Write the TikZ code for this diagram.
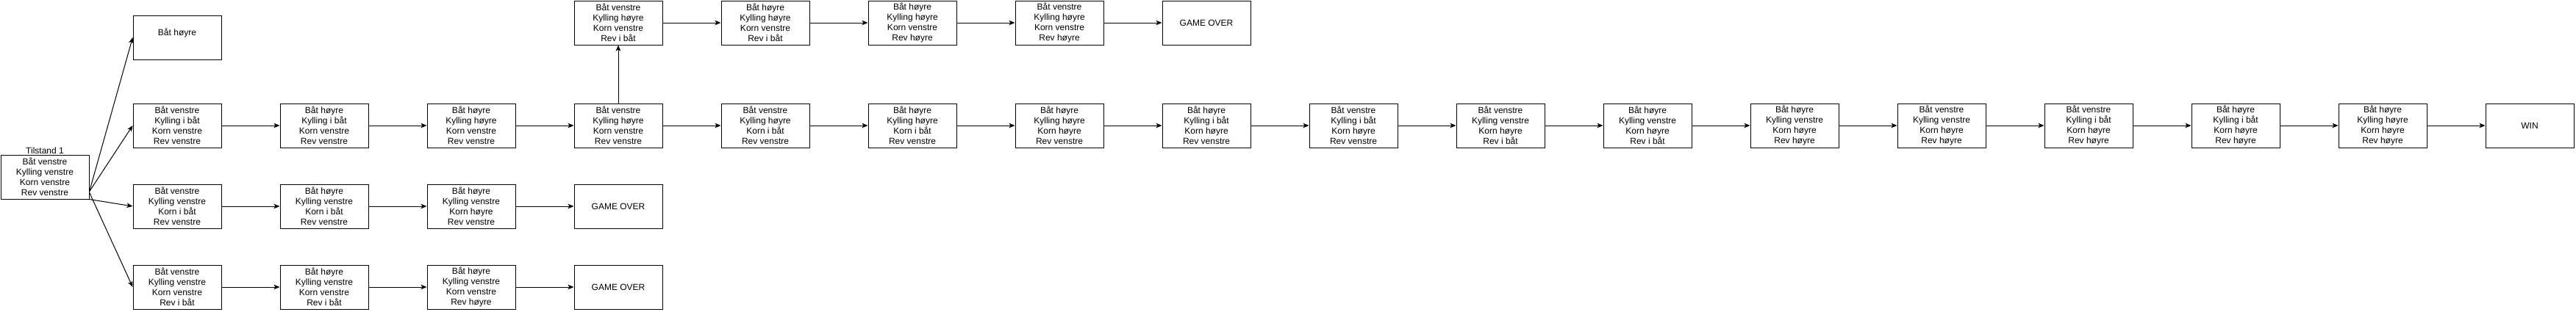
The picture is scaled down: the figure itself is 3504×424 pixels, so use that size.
\documentclass[tikz,border=0pt]{standalone}
\usepackage{fontspec}
\setmainfont{Liberation Sans}
\usetikzlibrary{arrows.meta,calc}
\tikzset{
  state/.style={draw,line width=1pt,minimum width=120pt,minimum height=60pt,inner sep=0pt,align=center,fill=white},
  move/.style={line width=1pt,-{Stealth[length=8pt,width=6.5pt,inset=2pt]}}
}
\begin{document}
\begin{tikzpicture}[x=1pt,y=1pt,yscale=-1,font=\fontsize{12}{14}\selectfont]
\useasboundingbox (0,0) rectangle (3504,424);
\def\x{200}
%start state
\draw (61,241) node[state,label={[inner sep=1pt]above:Tilstand 1}] (t1) {Båt venstre\\Kylling venstre\\Korn venstre\\Rev venstre};

%first column
\draw (241,51) node[state] (h1) {Båt høyre\\~};
\draw (241,171) node[state] (m1) {Båt venstre\\Kylling i båt\\Korn venstre\\Rev venstre};
\draw (241,281) node[state] (k1) {Båt venstre\\Kylling venstre\\Korn i båt\\Rev venstre};
\draw (241,391) node[state] (r1) {Båt venstre\\Kylling venstre\\Korn venstre\\Rev i båt};
% Arrows from start
\draw[move] ($(t1.east)+(0,20)$) -- (h1.west);
\draw[move] ($(t1.east)+(0,20)$) -- (m1.west);
\draw[move] (t1.south east) -- (k1.west);
\draw[move] ($(t1.east)+(0,21)$) -- (r1.west);

%row 3 (korn)
\draw (241+\x,281) node[state] (k2) {Båt høyre\\Kylling venstre\\Korn i båt\\Rev venstre};
\draw (241+2*\x,281) node[state] (k3) {Båt høyre\\Kylling venstre\\Korn høyre\\Rev venstre};
\draw (241+3*\x,281) node[state] (go2) {GAME OVER};
\draw[move] (k1) -- (k2);
\draw[move] (k2) -- (k3);
\draw[move] (k3) -- (go2);

%row 4 (rev)
\draw (241+\x,391) node[state] (r2) {Båt høyre\\Kylling venstre\\Korn venstre\\Rev i båt};
\draw (241+2*\x,391) node[state] (r3) {Båt høyre\\Kylling venstre\\Korn venstre\\Rev høyre};
\draw (241+3*\x,391) node[state] (go3) {GAME OVER};
\draw[move] (r1) -- (r2);
\draw[move] (r2) -- (r3);
\draw[move] (r3) -- (go3);

%row 2 (main path)
\draw (241+\x,171) node[state] (m2) {Båt høyre\\Kylling i båt\\Korn venstre\\Rev venstre};
\draw (241+2*\x,171) node[state] (m3) {Båt høyre\\Kylling høyre\\Korn venstre\\Rev venstre};
\draw (241+3*\x,171) node[state] (m4) {Båt venstre\\Kylling høyre\\Korn venstre\\Rev venstre};
\draw (241+4*\x,171) node[state] (m5) {Båt venstre\\Kylling høyre\\Korn i båt\\Rev venstre};
\draw (241+5*\x,171) node[state] (m6) {Båt høyre\\Kylling høyre\\Korn i båt\\Rev venstre};
\draw (241+6*\x,171) node[state] (m7) {Båt høyre\\Kylling høyre\\Korn høyre\\Rev venstre};
\draw (241+7*\x,171) node[state] (m8) {Båt høyre\\Kylling i båt\\Korn høyre\\Rev venstre};
\draw (241+8*\x,171) node[state] (m9) {Båt venstre\\Kylling i båt\\Korn høyre\\Rev venstre};
\draw (241+9*\x,171) node[state] (m10) {Båt venstre\\Kylling venstre\\Korn høyre\\Rev i båt};
\draw (241+10*\x,171) node[state] (m11) {Båt høyre\\Kylling venstre\\Korn høyre\\Rev i båt};
\draw (241+11*\x,171) node[state] (m12) {Båt høyre\\Kylling venstre\\Korn høyre\\Rev høyre};
\draw (241+12*\x,171) node[state] (m13) {Båt venstre\\Kylling venstre\\Korn høyre\\Rev høyre};
\draw (241+13*\x,171) node[state] (m14) {Båt venstre\\Kylling i båt\\Korn høyre\\Rev høyre};
\draw (241+14*\x,171) node[state] (m15) {Båt høyre\\Kylling i båt\\Korn høyre\\Rev høyre};
\draw (241+15*\x,171) node[state] (m16) {Båt høyre\\Kylling høyre\\Korn høyre\\Rev høyre};
\draw (241+16*\x,171) node[state] (win) {WIN};
\draw[move] (m1) -- (m2);
\draw[move] (m2) -- (m3);
\draw[move] (m3) -- (m4);
\draw[move] (m4) -- (m5);
\draw[move] (m5) -- (m6);
\draw[move] (m6) -- (m7);
\draw[move] (m7) -- (m8);
\draw[move] (m8) -- (m9);
\draw[move] (m9) -- (m10);
\draw[move] (m10) -- (m11);
\draw[move] (m11) -- (m12);
\draw[move] (m12) -- (m13);
\draw[move] (m13) -- (m14);
\draw[move] (m14) -- (m15);
\draw[move] (m15) -- (m16);
\draw[move] (m16) -- (win);

%row 1 (branch up from m4)
\draw (241+3*\x,31) node[state] (o1) {Båt venstre\\Kylling høyre\\Korn venstre\\Rev i båt};
\draw (241+4*\x,31) node[state] (o2) {Båt høyre\\Kylling høyre\\Korn venstre\\Rev i båt};
\draw (241+5*\x,31) node[state] (o3) {Båt høyre\\Kylling høyre\\Korn venstre\\Rev høyre};
\draw (241+6*\x,31) node[state] (o4) {Båt venstre\\Kylling høyre\\Korn venstre\\Rev høyre};
\draw (241+7*\x,31) node[state] (go1) {GAME OVER};
\draw[move] (m4) -- (o1);
\draw[move] (o1) -- (o2);
\draw[move] (o2) -- (o3);
\draw[move] (o3) -- (o4);
\draw[move] (o4) -- (go1);
\end{tikzpicture}
\end{document}
